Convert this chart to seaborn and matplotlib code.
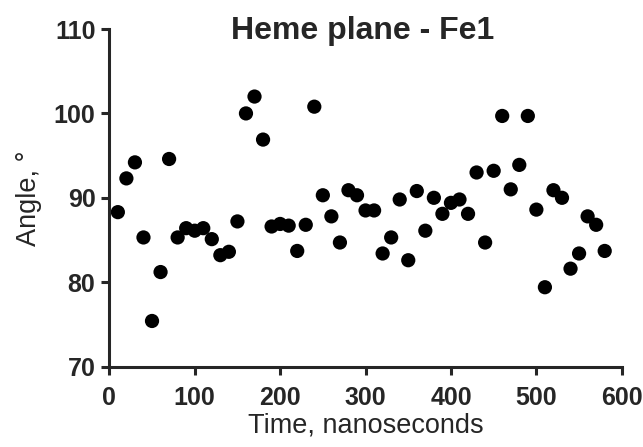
import matplotlib
matplotlib.use('Agg')
from matplotlib import pyplot as plt
import pandas as pd
import seaborn as sns

#--- data

time_ns = list(range(10, 590, 10))
angle = [88.3, 92.3, 94.2, 85.3, 75.4, 81.2, 94.6, 85.3, 86.4, 86.1,
         86.4, 85.1, 83.2, 83.6, 87.2, 100.0, 102.0, 96.9, 86.6, 86.9,
         86.7, 83.7, 86.8, 100.8, 90.3, 87.8, 84.7, 90.9, 90.3, 88.5,
         88.5, 83.4, 85.3, 89.8, 82.6, 90.8, 86.1, 90.0, 88.1, 89.4,
         89.8, 88.1, 93.0, 84.7, 93.2, 99.7, 91.0, 93.9, 99.7, 88.6,
         79.4, 90.9, 90.0, 81.6, 83.4, 87.8, 86.8, 83.7]
x_ticks = [0, 100, 200, 300, 400, 500, 600]
y_ticks = [70, 80, 90, 100, 110]

df = pd.DataFrame({'Time': time_ns, 'Angle': angle})

#--- plot

sns.set_style('ticks')
plt.rcParams['font.family'] = ['Liberation Sans', 'DejaVu Sans']

fig = plt.figure(figsize=(6.43, 4.47), dpi=100)
ax = fig.add_axes([0.170, 0.180, 0.797, 0.755])

sns.scatterplot(data=df, x='Time', y='Angle', ax=ax, color='black',
                s=105, edgecolor='none', legend=False, clip_on=False)

ax.set_xlim(0, 600)
ax.set_ylim(70, 110)
ax.set_xticks(x_ticks)
ax.set_yticks(y_ticks)
ax.tick_params(width=2.2, length=6, labelsize=18)
ax.tick_params(axis='x', pad=8)
ax.tick_params(axis='y', pad=4)
for lab in ax.get_xticklabels() + ax.get_yticklabels():
    lab.set_fontweight('bold')

for side in ['left', 'bottom']:
    ax.spines[side].set_linewidth(2.2)
sns.despine(ax=ax)

# axis titles
ax.set_xlabel('Time, nanoseconds', fontsize=19.5, va='baseline')
ax.xaxis.set_label_coords(0.5, -0.194)
ax.set_ylabel('Angle, °', fontsize=19.5)
ax.yaxis.set_label_coords(-0.131, 0.5)

# title sits just inside the top of the axes box
ax.text(0.495, 0.970, 'Heme plane - Fe1', transform=ax.transAxes,
        ha='center', va='baseline', fontsize=23, fontweight='bold')

plt.savefig('out.png', dpi=100)
plt.close()
